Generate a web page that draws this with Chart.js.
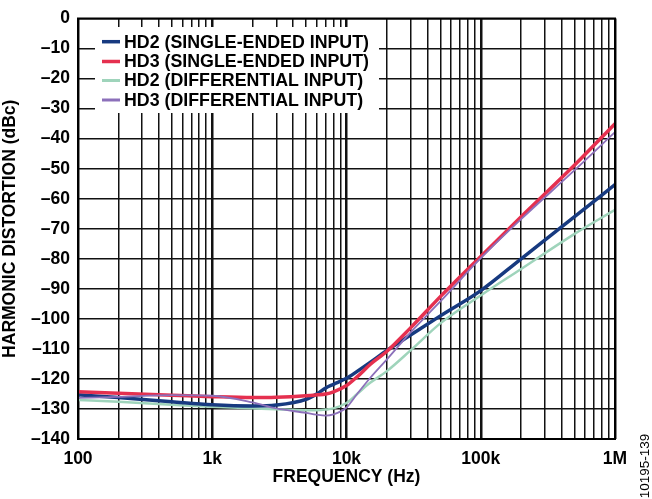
<!DOCTYPE html>
<html>
<head>
<meta charset="utf-8">
<script src="https://cdn.jsdelivr.net/npm/chart.js@4.4.1/dist/chart.umd.min.js"></script>
<style>
  html, body { margin: 0; padding: 0; background: #fff; }
  #wrap { width: 652px; height: 499px; position: relative; }
</style>
</head>
<body>
<div id="wrap"><canvas id="hdChart" width="652" height="499"></canvas></div>
<script>
// frequency points (Hz)
const freqs = [100, 200, 500, 1000, 2000, 3000, 5000, 6000, 7000, 8000, 10000, 12000, 15000, 20000, 30000, 50000, 100000, 200000, 500000, 1000000];

// dBc values
const hd2Single = [-125.3, -126.2, -127.6, -128.6, -129.0, -128.7, -126.8, -125.0, -123.0, -121.8, -119.8, -117.5, -114.5, -110.5, -105.4, -99.0, -90.6, -80.0, -66.0, -55.3];
const hd3Single = [-124.3, -124.8, -125.4, -125.9, -126.2, -126.1, -125.6, -125.3, -125.0, -124.3, -122.2, -119.3, -115.2, -110.8, -103.0, -92.6, -79.2, -66.0, -48.8, -35.0];
const hd2Diff = [-127.0, -127.6, -128.6, -129.3, -129.8, -130.1, -130.4, -130.4, -130.2, -129.8, -128.0, -125.0, -121.3, -117.4, -110.5, -101.5, -92.2, -83.4, -71.7, -63.7];
const hd3Diff = [-126.3, -126.0, -125.4, -125.6, -127.8, -129.8, -131.3, -131.9, -132.2, -131.8, -129.5, -125.0, -119.7, -113.5, -104.5, -94.2, -79.8, -66.8, -50.5, -37.8];

const seriesNames = ["HD2 (SINGLE-ENDED INPUT)", "HD3 (SINGLE-ENDED INPUT)", "HD2 (DIFFERENTIAL INPUT)", "HD3 (DIFFERENTIAL INPUT)"];
const seriesColors = ["#173a80", "#e5304f", "#9fd4bb", "#8c70ba"];
const seriesWidths = [3.5, 3.5, 2.5, 1.8];

const yTicks = [0, -10, -20, -30, -40, -50, -60, -70, -80, -90, -100, -110, -120, -130, -140];
const decadeLabels = { 100: "100", 1000: "1k", 10000: "10k", 100000: "100k", 1000000: "1M" };

const FONT = "'Liberation Sans', Arial, sans-serif";

function logTicks() {
  const out = [];
  for (let d = 100; d < 1000000; d *= 10) {
    for (let m = 1; m < 10; m++) out.push(d * m);
  }
  out.push(1000000);
  return out;
}

function pts(vals) {
  return freqs.map((f, i) => ({ x: f, y: vals[i] }));
}

const frame = {
  id: "frame",
  afterDatasetsDraw(chart) {
    const { ctx, chartArea: a } = chart;
    ctx.save();
    ctx.strokeStyle = "#000";
    ctx.lineWidth = 2;
    ctx.strokeRect(a.left, a.top, a.right - a.left, a.bottom - a.top);
    ctx.restore();
  },
  afterDraw(chart) {
    const ctx = chart.ctx;
    ctx.save();
    // legend box
    ctx.fillStyle = "#fff";
    ctx.fillRect(95, 27, 284, 86);
    const rows = [41.7, 61.5, 80.5, 100];
    ctx.font = "bold 17.8px " + FONT;
    ctx.textBaseline = "middle";
    ctx.textAlign = "left";
    seriesNames.forEach((name, i) => {
      ctx.strokeStyle = seriesColors[i];
      ctx.lineWidth = i < 2 ? 3.5 : 3;
      ctx.beginPath();
      ctx.moveTo(102, rows[i]);
      ctx.lineTo(120, rows[i]);
      ctx.stroke();
      ctx.fillStyle = "#000";
      ctx.fillText(name, 124, rows[i] + 1);
    });
    // figure code
    ctx.translate(645, 466);
    ctx.rotate(-Math.PI / 2);
    ctx.font = "13.5px " + FONT;
    ctx.textAlign = "center";
    ctx.fillText("10195-139", 0, 0);
    ctx.restore();
  }
};

new Chart(document.getElementById("hdChart"), {
  type: "line",
  data: {
    datasets: [
      { label: seriesNames[3], data: pts(hd3Diff), borderColor: seriesColors[3], borderWidth: seriesWidths[3], order: 1 },
      { label: seriesNames[1], data: pts(hd3Single), borderColor: seriesColors[1], borderWidth: seriesWidths[1], order: 2 },
      { label: seriesNames[0], data: pts(hd2Single), borderColor: seriesColors[0], borderWidth: seriesWidths[0], order: 3 },
      { label: seriesNames[2], data: pts(hd2Diff), borderColor: seriesColors[2], borderWidth: seriesWidths[2], order: 4 }
    ]
  },
  options: {
    responsive: false,
    animation: false,
    devicePixelRatio: 1,
    elements: {
      point: { radius: 0 },
      line: { cubicInterpolationMode: "monotone", fill: false }
    },
    layout: { padding: { top: 11, right: 37, left: 0, bottom: 0 } },
    plugins: { legend: { display: false }, tooltip: { enabled: false } },
    scales: {
      x: {
        type: "logarithmic",
        min: 100,
        max: 1000000,
        afterBuildTicks: (scale) => { scale.ticks = logTicks().map(v => ({ value: v })); },
        afterFit: (scale) => { scale.height = 60; },
        ticks: {
          autoSkip: false,
          maxRotation: 0,
          padding: 10,
          color: "#000",
          font: { family: FONT, size: 17.5, weight: "bold" },
          callback: (v) => decadeLabels[v] || ""
        },
        grid: {
          drawTicks: false,
          color: "#111",
          lineWidth: (c) => (c.tick && decadeLabels[c.tick.value] ? 2.5 : 1.5)
        },
        border: { display: false },
        title: {
          display: true,
          text: "FREQUENCY (Hz)",
          color: "#000",
          font: { family: FONT, size: 17.5, weight: "bold" },
          padding: { top: 0, bottom: 11 }
        }
      },
      y: {
        min: -140,
        max: 0,
        afterBuildTicks: (scale) => { scale.ticks = yTicks.map(v => ({ value: v })); },
        afterFit: (scale) => { scale.width = 78; },
        ticks: {
          padding: 8,
          color: "#000",
          font: { family: FONT, size: 17.5, weight: "bold" },
          callback: (v) => (v === 0 ? "0" : "\u2013" + Math.abs(v))
        },
        grid: { drawTicks: false, color: "#111", lineWidth: 1.6 },
        border: { display: false },
        title: {
          display: true,
          text: "HARMONIC DISTORTION (dBc)",
          color: "#000",
          font: { family: FONT, size: 17.5, weight: "bold" },
          padding: { top: 0, bottom: 0 }
        }
      }
    }
  },
  plugins: [frame]
});
</script>
</body>
</html>
